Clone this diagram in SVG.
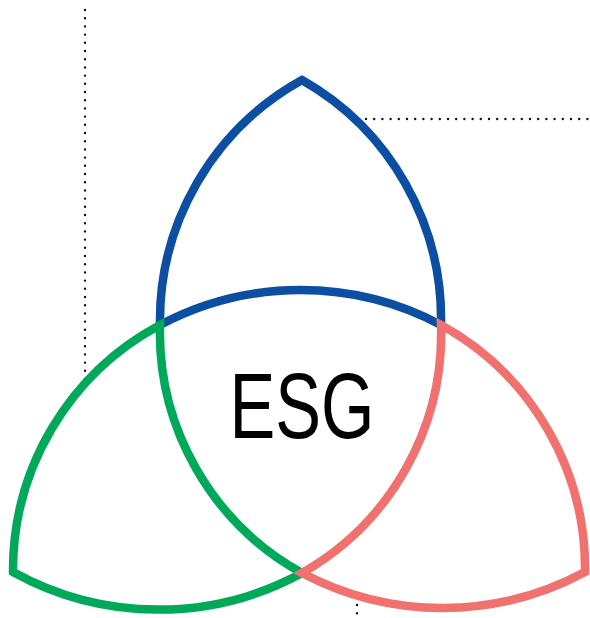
<svg xmlns="http://www.w3.org/2000/svg" width="590" height="618" viewBox="0 0 590 618">
<style>
.dot{fill:none;stroke:#111;stroke-width:2.4;stroke-linecap:round;stroke-dasharray:0 8.2}
.petal{fill:none;stroke-width:8.5;stroke-linejoin:miter;stroke-miterlimit:10}
.lbl{font-family:"Liberation Sans",Arial,sans-serif;font-size:92px;fill:#000}
</style>
<g id="guides">
<path class="dot" d="M85 10 V380"/>
<path class="dot" d="M366 119 H590"/>
<path class="dot" d="M357 605 V614"/>
</g>
<g id="environment">
<path class="petal" stroke="#0b4ea2" d="M160 325 A275 275 0 0 1 302 80 A275 275 0 0 1 441 325 A300 300 0 0 0 160 325 Z"/>
</g>
<g id="social">
<path class="petal" stroke="#00a85a" d="M160 325 A278 278 0 0 0 13 572 A300 300 0 0 0 302 573 A275 275 0 0 1 160 325 Z"/>
</g>
<g id="governance">
<path class="petal" stroke="#f1716e" d="M441 325 A278 278 0 0 1 585 572 A300 300 0 0 1 302 573 A275 275 0 0 0 441 325 Z"/>
</g>
<g id="center">
<text class="lbl" x="302" y="438" text-anchor="middle" textLength="145" lengthAdjust="spacingAndGlyphs">ESG</text>
</g>
</svg>
